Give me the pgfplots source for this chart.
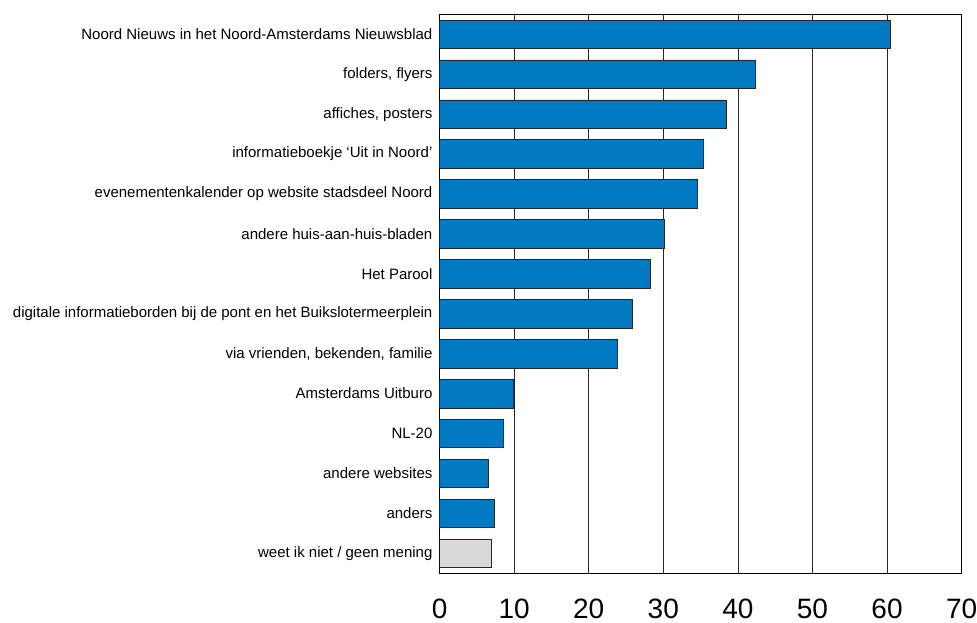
\documentclass[border=0pt]{standalone}
\usepackage{fontspec}
\setmainfont{Liberation Sans}
\usepackage{pgfplots}
\pgfplotsset{compat=1.18}
\definecolor{barblue}{RGB}{0,123,195}
\definecolor{bargray}{RGB}{217,217,217}
\begin{document}
\begin{tikzpicture}
  \begin{axis}[
      xbar,
      scale only axis,
      width=522pt, height=559pt,
      xmin=0, xmax=70,
      ymin=-0.5, ymax=13.5,
      y dir=reverse,
      xtick={0,10,...,70},
      ytick={0,...,13},
      yticklabels={
        Noord Nieuws in het Noord-Amsterdams Nieuwsblad,
        {folders, flyers},
        {affiches, posters},
        informatieboekje ‘Uit in Noord’,
        evenementenkalender op website stadsdeel Noord,
        andere huis-aan-huis-bladen,
        Het Parool,
        digitale informatieborden bij de pont en het Buikslotermeerplein,
        {via vrienden, bekenden, familie},
        Amsterdams Uitburo,
        NL-20,
        andere websites,
        anders,
        weet ik niet / geen mening},
      major tick length=0pt,
      xmajorgrids,
      grid style={black!85, line width=0.7pt},
      axis line style={black, line width=0.8pt},
      /pgf/number format/assume math mode=true,
      xticklabel style={font=\fontsize{28}{30}\selectfont, inner sep=0pt, yshift=-25pt},
      yticklabel style={font=\fontsize{15}{17}\selectfont, inner sep=0pt, xshift=-7pt},
      bar width=28.5pt,
      bar shift=0pt,
    ]
    \addplot[draw=black!85, line width=0.7pt, fill=barblue] coordinates {
      (60.5,0) (42.3,1) (38.4,2) (35.4,3) (34.6,4) (30.1,5) (28.3,6)
      (25.9,7) (23.8,8) (9.9,9) (8.6,10) (6.6,11) (7.4,12)
    };
    \addplot[draw=black!85, line width=0.7pt, fill=bargray] coordinates {
      (7.0,13)
    };
  \end{axis}
  \pgfresetboundingbox
  \path[use as bounding box] (-439.6pt,-49.7pt) rectangle (537.4pt,573.3pt);
\end{tikzpicture}
\end{document}
